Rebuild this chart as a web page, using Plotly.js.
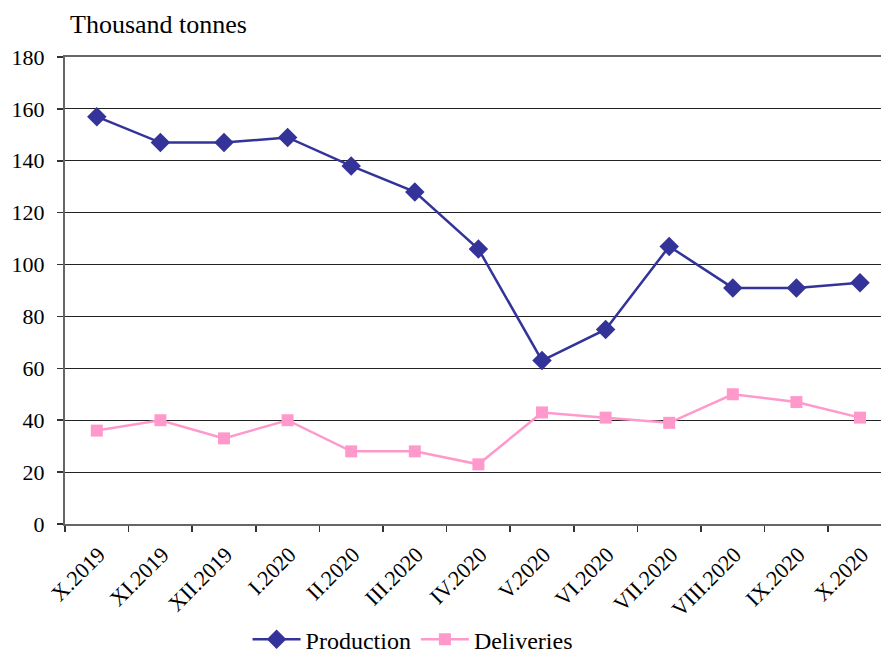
<!DOCTYPE html>
<html>
<head>
<meta charset="utf-8">
<script src="https://cdn.plot.ly/plotly-3.0.1.min.js"></script>
<style>
html,body{margin:0;padding:0;background:#fff;}
#chart{width:881px;height:654px;}
</style>
</head>
<body>
<div id="chart"></div>
<script>
const months = ["X.2019","XI.2019","XII.2019","I.2020","II.2020","III.2020","IV.2020","V.2020","VI.2020","VII.2020","VIII.2020","IX.2020","X.2020"];
const production = [157,147,147,149,138,128,106,63,75,107,91,91,93];
const deliveries = [36,40,33,40,28,28,23,43,41,39,50,47,41];
const yTicks = [0,20,40,60,80,100,120,140,160,180];

const serifFamily = "Liberation Serif";

const traces = [
  {x: months, y: production, name: "Production", type: "scatter", mode: "lines+markers",
   line: {color: "#333399", width: 2.5}, marker: {symbol: "diamond", size: 15, color: "#333399"}},
  {x: months, y: deliveries, name: "Deliveries", type: "scatter", mode: "lines+markers",
   line: {color: "#FF99CC", width: 2.5}, marker: {symbol: "square", size: 12, color: "#FF99CC"}}
];

const layout = {
  width: 881, height: 654,
  margin: {l: 65, r: 0, t: 57, b: 130},
  paper_bgcolor: "#fff", plot_bgcolor: "#fff",
  font: {family: serifFamily, size: 22, color: "#000"},
  showlegend: true,
  legend: {orientation: "h", xref: "container", yref: "container", x: 0.281, xanchor: "left",
           y: 0.022, yanchor: "middle",
           font: {family: serifFamily, size: 24, color: "#000"}, itemwidth: 48, tracegroupgap: 0},
  xaxis: {type: "category", range: [-0.5, 12.33], tickangle: -45, ticks: "outside", tickson: "boundaries",
          ticklen: 6, tickcolor: "#333", tickwidth: 1.5, showline: true, linecolor: "#666", linewidth: 2,
          mirror: true, showgrid: false, zeroline: false, automargin: false,
          ticklabelshift: 2, ticklabelstandoff: 7,
          tickfont: {family: serifFamily, size: 22, color: "#000"}},
  yaxis: {range: [0, 180], tickvals: yTicks, ticks: "outside", ticklen: 6, tickcolor: "#333", tickwidth: 1.5,
          showline: true, linecolor: "#666", linewidth: 2, showgrid: true, gridcolor: "#222", gridwidth: 1,
          zeroline: false, automargin: false, fixedrange: true, ticklabelstandoff: 8,
          tickfont: {family: serifFamily, size: 22, color: "#000"}},
  annotations: [{text: "Thousand tonnes", xref: "paper", yref: "paper", x: 0.004, y: 1.105, xanchor: "left",
                 yanchor: "top", showarrow: false, font: {family: serifFamily, size: 26, color: "#000"}}]
};

function draw() {
  Plotly.newPlot("chart", traces, layout, {displayModeBar: false, staticPlot: true});
}
if (document.fonts && document.fonts.load) {
  Promise.all([document.fonts.load("22px 'Liberation Serif'"), document.fonts.ready]).then(draw, draw);
} else {
  draw();
}
</script>
</body>
</html>
